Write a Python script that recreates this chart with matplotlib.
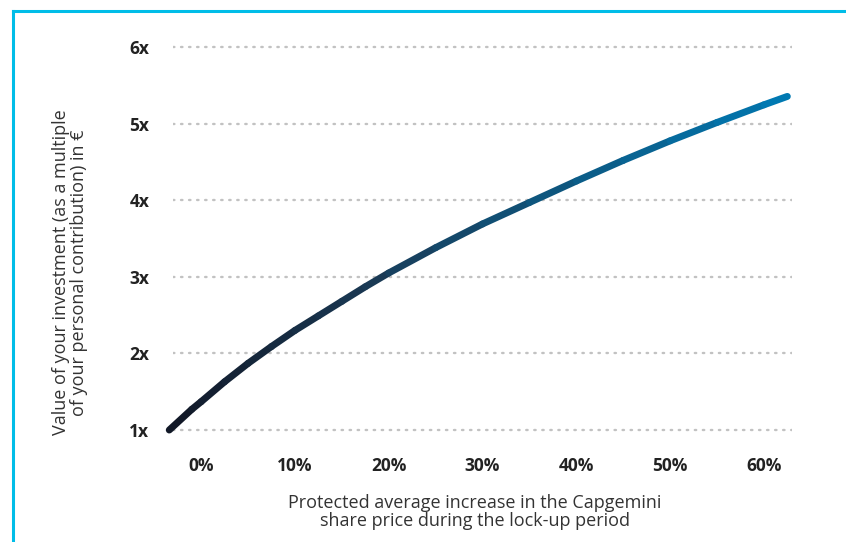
import numpy as np
import matplotlib
matplotlib.use("Agg")
from matplotlib import pyplot as plt
from matplotlib.collections import LineCollection
from matplotlib.colors import LinearSegmentedColormap
from matplotlib.lines import Line2D

plt.rcParams['font.family'] = ['Open Sans', 'DejaVu Sans']

# data
increase_pct = [-3.4, -1, 0, 2.5, 5, 7.5, 10, 12.5, 15, 17.5, 20, 25, 30, 35, 40, 45, 50, 55, 60, 62.5]
multiple = [1.0, 1.27, 1.37, 1.63, 1.87, 2.09, 2.30, 2.49, 2.68, 2.87, 3.05, 3.38, 3.69, 3.97,
            4.25, 4.52, 4.775, 5.015, 5.245, 5.355]
x_ticks = [0, 10, 20, 30, 40, 50, 60]
x_tick_labels = ['0%', '10%', '20%', '30%', '40%', '50%', '60%']
y_ticks = [1, 2, 3, 4, 5, 6]
y_tick_labels = ['1x', '2x', '3x', '4x', '5x', '6x']

fig = plt.figure(figsize=(8.46, 5.42), dpi=100)
ax = fig.add_axes([0.2045, 0.1854, 0.7317, 0.742])
ax.set_xlim(-3, 63)
ax.set_ylim(0.85, 6.1)

# dotted horizontal grid
for yv in y_ticks:
    ax.axhline(yv, color='#c2c2c2', lw=1.7, ls=(0, (0.6, 2.8)), dash_capstyle='round', zorder=1)

# gradient line, dark navy -> blue
pts = np.column_stack([increase_pct, multiple]).reshape(-1, 1, 2)
segs = np.concatenate([pts[:-1], pts[1:]], axis=1)
cmap = LinearSegmentedColormap.from_list('cg', ['#111827', '#1a3a55', '#0079b2'])
lc = LineCollection(segs, cmap=cmap, linewidths=5.0, capstyle='round', joinstyle='round',
                    zorder=3, clip_on=False)
lc.set_array(np.linspace(0, 1, len(segs)))
ax.add_collection(lc)

ax.set_xticks(x_ticks)
ax.set_xticklabels(x_tick_labels, fontsize=12.5, fontweight='bold', color='#222222')
ax.set_yticks(y_ticks)
ax.set_yticklabels(y_tick_labels, fontsize=12.5, fontweight='bold', color='#222222')
ax.tick_params(length=0)
ax.tick_params(axis='y', pad=17)
ax.tick_params(axis='x', pad=11)
for s in ax.spines.values():
    s.set_visible(False)

ax.set_ylabel('Value of your investment (as a multiple\nof your personal contribution) in €',
              fontsize=13, color='#333333', linespacing=1.0)
ax.yaxis.set_label_coords(-0.138, 0.42)
ax.set_xlabel('Protected average increase in the Capgemini\nshare price during the lock-up period',
              fontsize=13, color='#333333', linespacing=1.0)
ax.xaxis.set_label_coords(0.488, -0.13)

# cyan frame on top and left
c = '#00bde8'
fig.add_artist(Line2D([13 / 846, 1.0], [1 - 11 / 542, 1 - 11 / 542], color=c, lw=2.2,
                      transform=fig.transFigure))
fig.add_artist(Line2D([13 / 846, 13 / 846], [0, 1 - 11 / 542], color=c, lw=2.2,
                      transform=fig.transFigure))

fig.savefig('out.png', dpi=100)
